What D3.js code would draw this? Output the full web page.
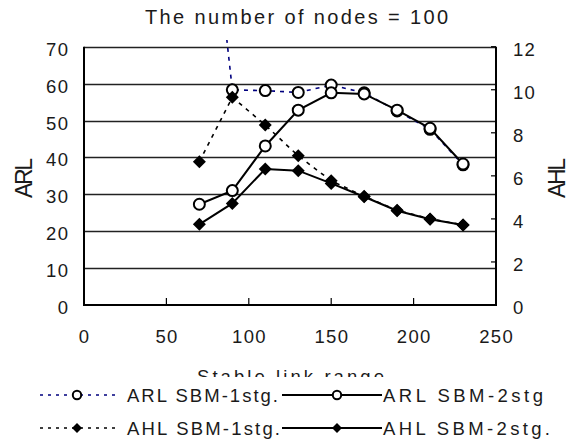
<!DOCTYPE html>
<html>
<head>
<meta charset="utf-8">
<script src="https://cdnjs.cloudflare.com/ajax/libs/d3/7.8.5/d3.min.js"></script>
<style>
  html, body { margin: 0; padding: 0; background: #fff; }
  svg { display: block; font-family: "Liberation Sans", Arial, sans-serif; }
</style>
</head>
<body>
<svg id="chart" width="573" height="444"></svg>
<script>
// ---- data ----
const linkRange = [70, 90, 110, 130, 150, 170, 190, 210, 230];
const arl1stg = [140, 58.3, 58.1, 57.6, 59.6, 57.5, 52.6, 47.6, 38.0];
const arl2stg = [27.3, 31.0, 43.1, 52.8, 57.5, 57.2, 52.8, 47.9, 38.2];
const ahl1stg = [6.66, 9.65, 8.36, 6.93, 5.77, 5.05, 4.40, 4.00, 3.72];
const ahl2stg = [3.75, 4.72, 6.32, 6.24, 5.65, 5.03, 4.38, 3.98, 3.72];
const xTicks = [0, 50, 100, 150, 200, 250];
const leftTicks = [0, 10, 20, 30, 40, 50, 60, 70];
const rightTicks = [0, 2, 4, 6, 8, 10, 12];
const titleText = "The number of nodes = 100";
const xLabel = "Stable link range";
const yLeftLabel = "ARL";
const yRightLabel = "AHL";
const legendNames = ["ARL SBM-1stg.", "ARL SBM-2stg", "AHL SBM-1stg.", "AHL SBM-2stg."];

const svg = d3.select("#chart");
const x = d3.scaleLinear().domain([0, 250]).range([84, 496]);
const yL = d3.scaleLinear().domain([0, 70]).range([305, 46.7]);
const yR = d3.scaleLinear().domain([0, 12]).range([305, 46.7]);
const txt = "#1a1a1a";

// title
svg.append("text").attr("x", 145).attr("y", 24)
  .attr("font-size", 20).attr("textLength", 303).attr("lengthAdjust", "spacing")
  .attr("fill", txt).text(titleText);

// gridlines
svg.append("g").selectAll("line").data(leftTicks.filter(d => d > 0)).join("line")
  .attr("x1", x(0)).attr("x2", x(250))
  .attr("y1", d => Math.round(yL(d)) + 0.5).attr("y2", d => Math.round(yL(d)) + 0.5)
  .attr("stroke", "#222").attr("stroke-width", 1.3);

// axes lines
svg.append("line").attr("x1", x(0)).attr("x2", x(0)).attr("y1", yL(70)).attr("y2", yL(0) + 1)
  .attr("stroke", "#000").attr("stroke-width", 2);
svg.append("line").attr("x1", x(250)).attr("x2", x(250)).attr("y1", yL(70)).attr("y2", yL(0) + 1)
  .attr("stroke", "#000").attr("stroke-width", 2);
svg.append("line").attr("x1", x(0) - 1).attr("x2", x(250) + 1).attr("y1", yL(0)).attr("y2", yL(0))
  .attr("stroke", "#000").attr("stroke-width", 2);

// x ticks (inside, upward)
svg.append("g").selectAll("line").data(xTicks.filter(d => d > 0 && d < 250)).join("line")
  .attr("x1", d => x(d)).attr("x2", d => x(d)).attr("y1", yL(0)).attr("y2", yL(0) - 7)
  .attr("stroke", "#000").attr("stroke-width", 1.2);
// right ticks (inside, leftward)
svg.append("g").selectAll("line").data(rightTicks).join("line")
  .attr("x1", x(250)).attr("x2", x(250) - 5).attr("y1", d => yR(d)).attr("y2", d => yR(d))
  .attr("stroke", "#000").attr("stroke-width", 1.2);

// tick labels
const tickFont = 18.5, tickLS = 1.3;
svg.append("g").selectAll("text").data(xTicks).join("text")
  .attr("x", d => x(d) + tickLS / 2).attr("y", 343).attr("text-anchor", "middle")
  .attr("font-size", tickFont).attr("letter-spacing", tickLS).attr("fill", txt).text(d => d);
svg.append("g").selectAll("text").data(leftTicks).join("text")
  .attr("x", 68 + tickLS).attr("y", d => yL(d) + 9).attr("text-anchor", "end")
  .attr("font-size", tickFont).attr("letter-spacing", tickLS).attr("fill", txt).text(d => d);
svg.append("g").selectAll("text").data(rightTicks).join("text")
  .attr("x", 513).attr("y", d => yR(d) + 9).attr("text-anchor", "start")
  .attr("font-size", tickFont).attr("letter-spacing", tickLS).attr("fill", txt).text(d => d);

// axis titles
svg.append("text").attr("transform", "translate(32,198) rotate(-90)")
  .attr("font-size", 23).attr("fill", txt)
  .attr("textLength", 40).attr("lengthAdjust", "spacing").text(yLeftLabel);
svg.append("text").attr("transform", "translate(565,198) rotate(-90)")
  .attr("font-size", 23).attr("fill", txt)
  .attr("textLength", 40).attr("lengthAdjust", "spacing").text(yRightLabel);

// clip paths
const defs = svg.append("defs");
defs.append("clipPath").attr("id", "xlabClip")
  .append("rect").attr("x", 0).attr("y", 350).attr("width", 573).attr("height", 27);
defs.append("clipPath").attr("id", "plotClip")
  .append("rect").attr("x", 60).attr("y", 40).attr("width", 460).attr("height", 280);

// x label (clipped by legend area)
svg.append("text").attr("x", 197).attr("y", 383)
  .attr("font-size", 18.5).attr("fill", txt).attr("clip-path", "url(#xlabClip)")
  .attr("textLength", 187).attr("lengthAdjust", "spacing").text(xLabel);

// series
const series = [
  {vals: arl1stg, y: yL, color: "#00007f", dash: "4,5", width: 1.6, marker: "circle"},
  {vals: arl2stg, y: yL, color: "#000", dash: null, width: 2, marker: "circle"},
  {vals: ahl1stg, y: yR, color: "#000", dash: "4,5", width: 1.6, marker: "diamond"},
  {vals: ahl2stg, y: yR, color: "#000", dash: null, width: 2, marker: "diamond"}
];
const plot = svg.append("g").attr("clip-path", "url(#plotClip)");
const diamondPath = (cx, cy, r) => `M${cx},${cy - r}L${cx + r},${cy}L${cx},${cy + r}L${cx - r},${cy}Z`;

series.forEach(s => {
  const pts = linkRange.map((xv, i) => [x(xv), s.y(s.vals[i])]);
  plot.append("path").attr("d", d3.line()(pts)).attr("fill", "none")
    .attr("stroke", s.color).attr("stroke-width", s.width)
    .attr("stroke-dasharray", s.dash);
  const g = plot.append("g");
  if (s.marker === "circle") {
    g.selectAll("circle").data(pts).join("circle")
      .attr("cx", d => d[0]).attr("cy", d => d[1]).attr("r", 5.5)
      .attr("fill", "#fff").attr("stroke", "#000").attr("stroke-width", 2);
  } else {
    g.selectAll("path").data(pts).join("path")
      .attr("d", d => diamondPath(d[0], d[1], 6.5)).attr("fill", "#000");
  }
});

// legend
const leg = svg.append("g");
const legItems = [
  {row: 0, col: 0, s: series[0], name: legendNames[0], tl: 151},
  {row: 0, col: 1, s: series[1], name: legendNames[1], tl: 160},
  {row: 1, col: 0, s: series[2], name: legendNames[2], tl: 153},
  {row: 1, col: 1, s: series[3], name: legendNames[3], tl: 167}
];
const rowY = [395, 428];
const colDef = [{x1: 40, x2: 115, mx: 77, tx: 127}, {x1: 282, x2: 382, mx: 337, tx: 383}];
legItems.forEach(it => {
  const c = colDef[it.col], yy = rowY[it.row];
  leg.append("line").attr("x1", c.x1).attr("x2", c.x2).attr("y1", yy).attr("y2", yy)
    .attr("stroke", it.s.color).attr("stroke-width", it.s.width)
    .attr("stroke-dasharray", it.s.dash ? "3,5" : null);
  if (it.s.marker === "circle") {
    leg.append("circle").attr("cx", c.mx).attr("cy", yy).attr("r", 4.2)
      .attr("fill", "#fff").attr("stroke", "#000").attr("stroke-width", 2);
  } else {
    leg.append("path").attr("d", diamondPath(c.mx, yy, 5)).attr("fill", "#000");
  }
  leg.append("text").attr("x", c.tx).attr("y", yy + 6.5)
    .attr("font-size", 18.5).attr("fill", txt)
    .attr("textLength", it.tl).attr("lengthAdjust", "spacing").text(it.name);
});
</script>
</body>
</html>
